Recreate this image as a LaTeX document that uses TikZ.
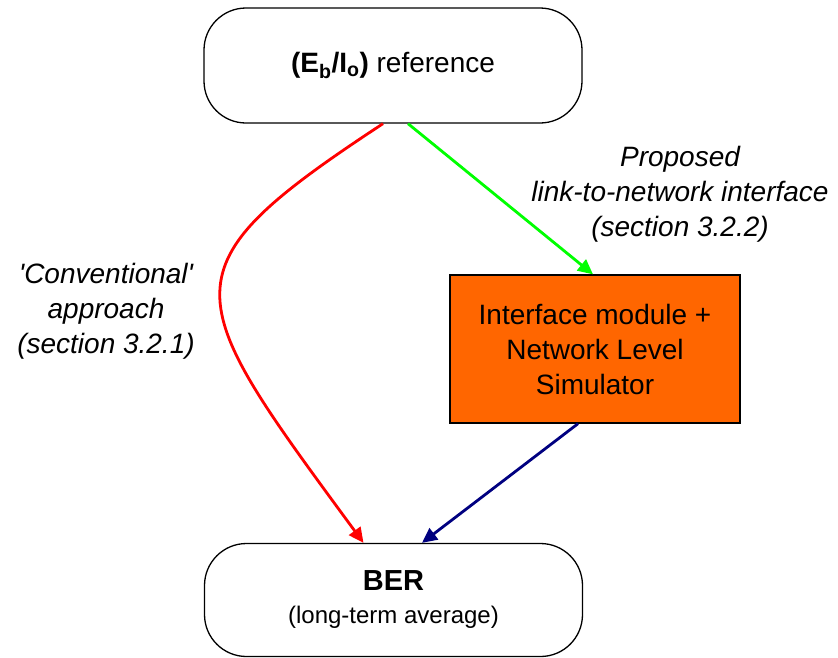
\documentclass[tikz,border=0pt]{standalone}
\usepackage{fontspec}
\setmainfont{Liberation Sans}
\usetikzlibrary{arrows.meta}
\definecolor{boxorange}{HTML}{FF6600}
\definecolor{linkred}{HTML}{FF0000}
\definecolor{linkgreen}{HTML}{00FF00}
\definecolor{linknavy}{HTML}{000080}
\tikzset{
  terminal/.style={draw=black, line width=1.3pt, rounded corners=42pt, fill=white,
    minimum width=378pt, inner sep=0pt, align=center},
  module/.style={draw=black, line width=1.3pt, fill=boxorange,
    minimum width=290pt, minimum height=148pt, inner sep=0pt, align=center,
    font=\fontsize{28}{35}\selectfont},
  flow/.style={line width=2.8pt, -{Triangle[length=15pt,width=14pt]}},
  note/.style={align=center, font=\fontsize{28}{35}\selectfont\itshape}
}
\begin{document}
\begin{tikzpicture}[x=1pt,y=-1pt]
  \useasboundingbox (0,0) rectangle (838,657);

  % start and end points of the two evaluation routes
  \node[terminal, minimum height=115pt, font=\fontsize{28}{34}\selectfont] (ref) at (393,65.5)
    {\textbf{(E\textsubscript{b}/I\textsubscript{o})} reference};
  \node[terminal, minimum height=113pt, font=\fontsize{24}{33}\selectfont] (ber) at (393.5,600)
    {{\fontsize{29}{33}\selectfont\textbf{BER}}\\(long-term average)};

  % network-level stage
  \node[module] (sim) at (595,349) {Interface module +\\Network Level\\Simulator};

  % route labels
  \node[note] (convlbl) at (106,311) {\textquotesingle Conventional\textquotesingle\\approach\\(section 3.2.1)};
  \node[note] (proplbl) at (680,194) {Proposed\\link-to-network interface\\(section 3.2.2)};

  % conventional route
  \draw[flow, linkred] ([xshift=-10pt]ref.south) .. controls (160,270) and (180,293) .. ([xshift=-30pt]ber.north);
  % proposed route through the interface module
  \draw[flow, linkgreen] ([xshift=15pt]ref.south) -- ([xshift=-2pt]sim.north);
  \draw[flow, linknavy] ([xshift=-17pt]sim.south) -- ([xshift=28.5pt]ber.north);
\end{tikzpicture}
\end{document}
